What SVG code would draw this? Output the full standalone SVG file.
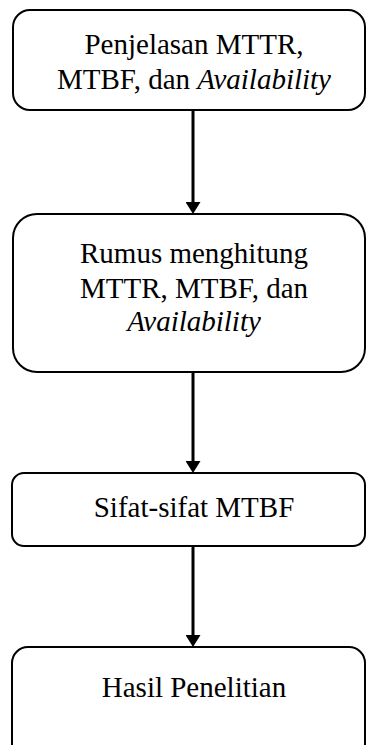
<svg xmlns="http://www.w3.org/2000/svg" width="366" height="745" viewBox="0 0 366 745">
  <style>
    .box { fill: #ffffff; stroke: #000000; stroke-width: 2; }
    .lbl { font-family: "Liberation Serif", "Times New Roman", serif; font-size: 29px; fill: #000000; text-anchor: middle; }
    .it { font-style: italic; }
    .conn { stroke: #000000; stroke-width: 3; fill: none; }
  </style>
  <defs>
    <marker id="arrow" viewBox="0 0 12 15" refX="0" refY="7.5" markerWidth="12" markerHeight="15" markerUnits="userSpaceOnUse" orient="auto">
      <path d="M0,0 L12,7.5 L0,15 z" fill="#000000"/>
    </marker>
  </defs>
  <rect width="366" height="745" fill="#ffffff"/>

  <g id="connectors">
    <line class="conn" x1="193" y1="111" x2="193" y2="202" marker-end="url(#arrow)"/>
    <line class="conn" x1="193" y1="373" x2="193" y2="461" marker-end="url(#arrow)"/>
    <line class="conn" x1="193" y1="547" x2="193" y2="635" marker-end="url(#arrow)"/>
  </g>

  <g id="node1">
    <rect class="box" x="13" y="10" width="352" height="100" rx="17" ry="17"/>
    <text class="lbl" x="194" y="54">Penjelasan MTTR,</text>
    <text class="lbl" x="194" y="89">MTBF, dan <tspan class="it">Availability</tspan></text>
  </g>

  <g id="node2">
    <rect class="box" x="13" y="214" width="352" height="158" rx="24" ry="24"/>
    <text class="lbl" x="194" y="263">Rumus menghitung</text>
    <text class="lbl" x="194" y="298">MTTR, MTBF, dan</text>
    <text class="lbl it" x="194" y="331">Availability</text>
  </g>

  <g id="node3">
    <rect class="box" x="12" y="473" width="353" height="73" rx="12" ry="12"/>
    <text class="lbl" x="194" y="517">Sifat-sifat MTBF</text>
  </g>

  <g id="node4">
    <rect class="box" x="12" y="647" width="353" height="120" rx="16" ry="16"/>
    <text class="lbl" x="194" y="697">Hasil Penelitian</text>
  </g>
</svg>
